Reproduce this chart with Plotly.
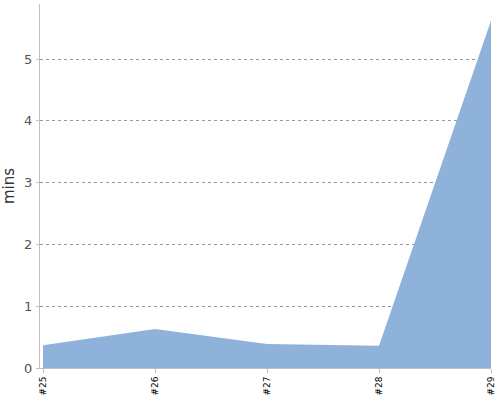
import plotly.graph_objects as go

# builds and durations
builds = ['#25', '#26', '#27', '#28', '#29']
mins = [0.37, 0.63, 0.39, 0.36, 5.62]

fig = go.Figure()

# area in blue
fig.add_trace(go.Scatter(
    x=builds, y=mins,
    mode='lines',
    line={'width': 0, 'color': '#8fb2da'},
    fill='tozeroy',
    fillcolor='#8fb2da',
    hoverinfo='x+y'
))

fig.update_layout(
    width=500, height=400,
    margin={'l': 40, 'r': 9, 't': 4, 'b': 32},
    plot_bgcolor='white',
    paper_bgcolor='white',
    showlegend=False,
    font={'family': 'DejaVu Sans', 'color': '#444'},
)

fig.update_xaxes(
    type='category',
    range=[-0.027, 4],
    automargin=False,
    tickangle=-90,
    tickfont={'size': 9, 'color': 'black'},
    showgrid=False,
    showline=True, linecolor='#c0c0c0', linewidth=1,
    ticks='outside', ticklen=4, tickcolor='#c0c0c0',
)

fig.update_yaxes(
    range=[0, 5.89],
    dtick=1,
    automargin=False,
    title={'text': 'mins', 'font': {'size': 15, 'color': '#333'}, 'standoff': 6},
    tickfont={'size': 13, 'color': '#555'},
    ticklabelstandoff=1,
    showgrid=True, gridcolor='#999', griddash='3px,3px', gridwidth=1,
    zeroline=False,
    showline=True, linecolor='#c0c0c0', linewidth=1,
    ticks='outside', ticklen=3, tickcolor='#c0c0c0',
)

# sin margen en la página para que quepa en la ventana
fig.write_html('out.html', config={'displayModeBar': False},
               post_script="document.body.style.margin='0';")
